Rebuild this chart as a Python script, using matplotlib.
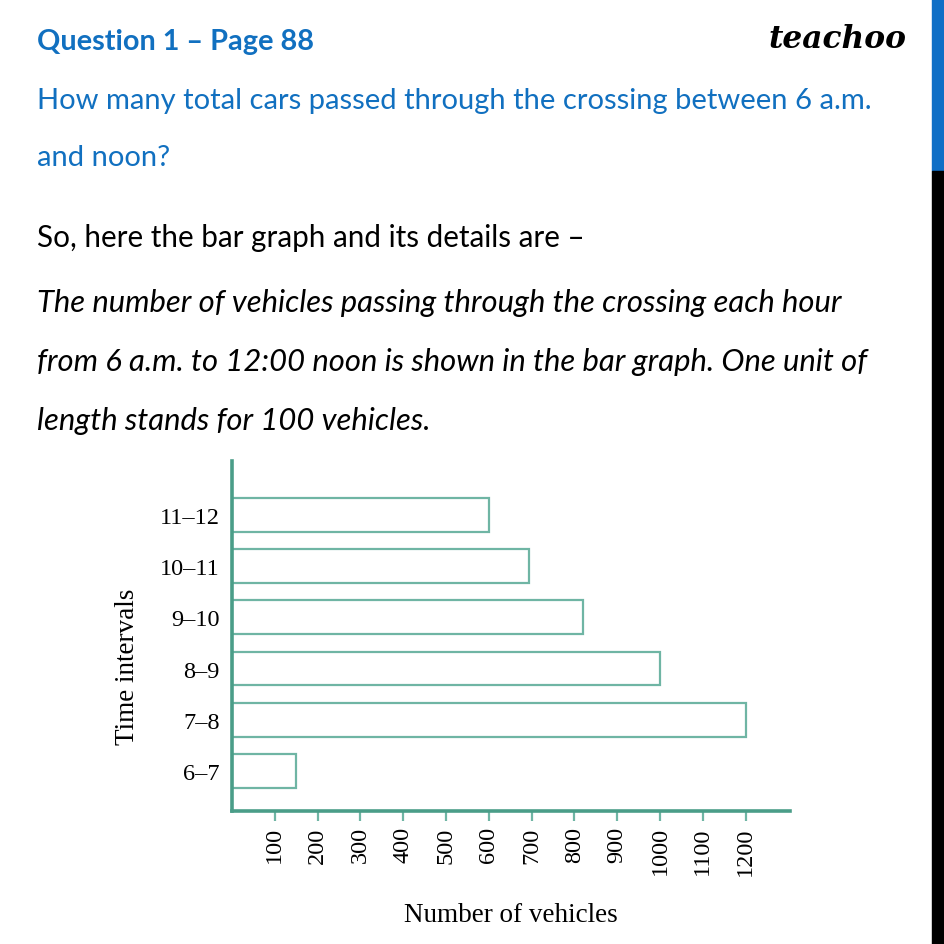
import matplotlib.pyplot as plt
from matplotlib.patches import Rectangle

# data
intervals = ['6–7', '7–8', '8–9', '9–10', '10–11', '11–12']
vehicles = [150, 1200, 1000, 820, 695, 600]
x_ticks = [100, 200, 300, 400, 500, 600, 700, 800, 900, 1000, 1100, 1200]

# page text
title = 'Question 1 – Page 88'
question = ['How many total cars passed through the crossing between 6 a.m.',
            'and noon?']
intro = 'So, here the bar graph and its details are –'
details = ['The number of vehicles passing through the crossing each hour',
           'from 6 a.m. to 12:00 noon is shown in the bar graph. One unit of',
           'length stands for 100 vehicles.']

W = 945
blue = '#1170c0'
teal = '#4a9d88'
teal_light = '#6fb5a4'
serif = 'Liberation Serif'
sans = 'Lato'

fig = plt.figure(figsize=(9.45, 9.45), dpi=100)
fig.patch.set_facecolor('white')


def px(x, y):
    # pixel position (from top-left) -> figure fraction
    return x / W, 1 - y / W


# header and text lines
fig.text(*px(37, 42), title, color=blue, fontsize=20.8, fontweight='bold',
         family=sans, va='center')
fig.text(*px(768, 40), 'teachoo', color='black', fontsize=22.5, fontweight='bold',
         style='italic', family='DejaVu Serif', va='center')
for i, line in enumerate(question):
    fig.text(*px(37, 101 + i * 57), line, color=blue, fontsize=21,
             family=sans, va='center')
fig.text(*px(37, 238), intro, color='black', fontsize=21.3, family=sans,
         va='center')
for i, line in enumerate(details):
    fig.text(*px(37, 303 + i * 59), line, color='black', fontsize=22.3,
             family=sans, style='italic', va='center')

# side strip on the right
fig.patches.append(Rectangle(px(932, 172), 13 / W, 172 / W, color='#0f6fc6',
                             transform=fig.transFigure, zorder=0))
fig.patches.append(Rectangle(px(932, 945), 13 / W, 773 / W, color='black',
                             transform=fig.transFigure, zorder=0))

# chart axes placed in pixel coordinates
left, right, top, bottom = 232, 790, 462, 812
ax = fig.add_axes([left / W, 1 - bottom / W, (right - left) / W, (bottom - top) / W])

pos = list(range(len(intervals)))
ax.barh(pos, vehicles, height=0.66, facecolor='white', edgecolor=teal_light,
        linewidth=1.6)

ax.set_xlim(0, (right - left) / 42.8 * 100)
ax.set_ylim(-0.78, 6.05)

for s in ['top', 'right']:
    ax.spines[s].set_visible(False)
for s in ['left', 'bottom']:
    ax.spines[s].set_color(teal)
    ax.spines[s].set_linewidth(2.6)

ax.set_xticks(x_ticks)
ax.set_xticklabels([str(t) for t in x_ticks], rotation=90, family=serif,
                   fontsize=17.5)
ax.set_yticks(pos)
ax.set_yticklabels(intervals, family=serif, fontsize=17.5)
ax.tick_params(axis='x', length=7, width=1.6, color=teal_light, pad=4)
ax.tick_params(axis='y', length=0, pad=9)

ax.set_xlabel('Number of vehicles', family=serif, fontsize=19.5, labelpad=20)
ax.set_ylabel('Time intervals', family=serif, fontsize=19.5)
ax.yaxis.set_label_coords((140 - left) / (right - left), (bottom - 667) / (bottom - top))

fig.savefig('out.png', dpi=100)
